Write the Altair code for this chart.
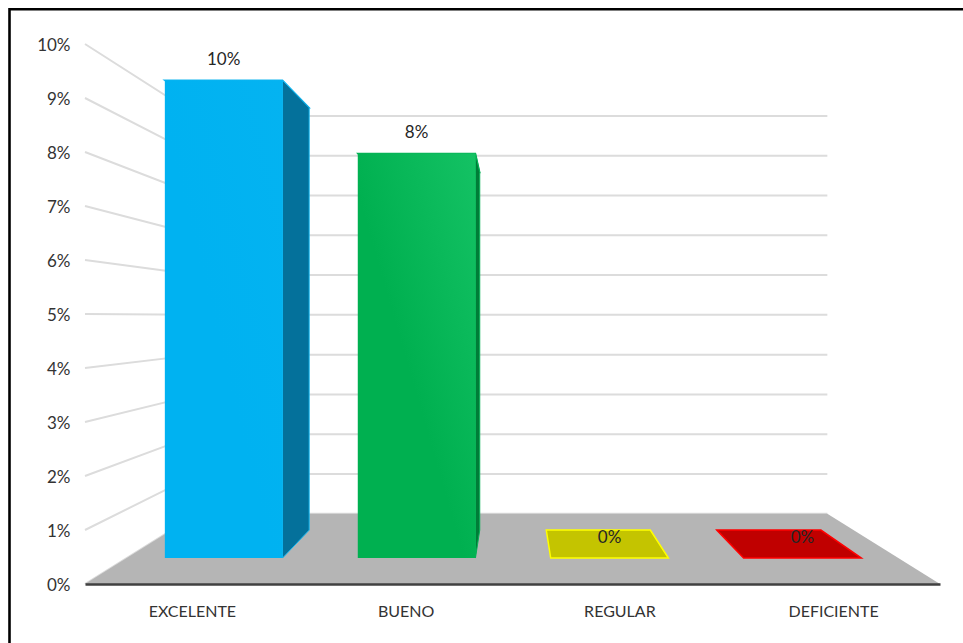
import json
import altair as alt
import pandas as pd

# Chart content
categories = ["EXCELENTE", "BUENO", "REGULAR", "DEFICIENTE"]
values = [9.8, 8.3, 0.0, 0.0]
face_colors = ["#00b2f1", "#00b050", "#c4c400", "#c00000"]
face_highlights = ["#04b3f1", "#14c264", "#c4c400", "#c00000"]
side_colors = ["#04719b", "#007d38", "#c4c400", "#c00000"]
edge_colors = ["#12b6f0", "#06b256", "#ffff00", "#ff0000"]
axis_ticks = list(range(0, 11))

# Perspective model: points recede toward a vanishing point, in data units
VANISH_X, VANISH_Y = 2.0, 4.94
DEPTH_BAR_FRONT, DEPTH_BAR_BACK, DEPTH_WALL = 0.9026, 0.798, 0.7365
BAR_START, BAR_END = 0.198, 0.808


def px(x, depth):
    return VANISH_X + (x - VANISH_X) * depth


def py(y, depth):
    return VANISH_Y + (y - VANISH_Y) * depth


x_scale = alt.Scale(domain=[0, 4], nice=False, zero=False)
y_scale = alt.Scale(domain=[0, 10], nice=False, zero=False)
FONT = "Lato"
x_labels = "{}[floor(datum.value)]".format(json.dumps(categories))

x_axis = alt.Axis(
    values=[i + 0.5 for i in range(len(categories))],
    labelExpr=x_labels, grid=False, ticks=False, labelFont=FONT,
    labelFontSize=16, labelColor="#333333", labelPadding=19, title=None,
    domainColor="#404040", domainWidth=2.5, zindex=1,
)
y_axis = alt.Axis(
    values=axis_ticks, labelExpr="datum.value + '%'", grid=False,
    ticks=False, domain=False, labelFont=FONT, labelFontSize=17,
    labelColor="#333333", labelPadding=15, labelOffset=1, title=None, zindex=1,
)


def X(name="x"):
    return alt.X(f"{name}:Q", scale=x_scale, axis=x_axis, stack=None)


def Y(name="y"):
    return alt.Y(f"{name}:Q", scale=y_scale, axis=y_axis, stack=None)


# Side wall and back wall gridlines, one polyline per tick
grid_rows = []
for v in axis_ticks:
    grid_rows += [
        {"tick": v, "step": 0, "x": 0.0, "y": float(v)},
        {"tick": v, "step": 1, "x": px(0, DEPTH_WALL), "y": py(v, DEPTH_WALL)},
        {"tick": v, "step": 2, "x": px(4, DEPTH_WALL), "y": py(v, DEPTH_WALL)},
    ]
grid = alt.Chart(pd.DataFrame(grid_rows)).mark_line(
    stroke="#dcdcdc", strokeWidth=2
).encode(x=X(), y=Y(), detail="tick:N", order="step:Q")

# Grey floor between the front axis and the back wall
floor = alt.Chart(pd.DataFrame([
    {"y": 0.0, "x": 0.0, "x2": 4.0},
    {"y": py(0, DEPTH_WALL), "x": px(0, DEPTH_WALL), "x2": px(4, DEPTH_WALL)},
])).mark_area(orient="horizontal", fill="#b5b5b5").encode(
    y=Y(), x=X(), x2="x2:Q"
)

layers = [grid, floor]

# Each bar is a top face, a side face and a front face
for i, v in enumerate(values):
    left, right = i + BAR_START, i + BAR_END
    top = alt.Chart(pd.DataFrame([
        {"y": py(v, DEPTH_BAR_FRONT), "x": px(left, DEPTH_BAR_FRONT), "x2": px(right, DEPTH_BAR_FRONT)},
        {"y": py(v, DEPTH_BAR_BACK), "x": px(left, DEPTH_BAR_BACK), "x2": px(right, DEPTH_BAR_BACK)},
    ])).mark_area(
        orient="horizontal", fill=face_colors[i], stroke=edge_colors[i], strokeWidth=1.5
    ).encode(y=Y(), x=X(), x2="x2:Q")
    layers.append(top)
    if v > 0:
        side = alt.Chart(pd.DataFrame([
            {"x": px(right, d), "y": py(v, d), "y2": py(0, d)}
            for d in (DEPTH_BAR_FRONT, DEPTH_BAR_BACK)
        ])).mark_area(
            fill=side_colors[i], stroke=edge_colors[i], strokeWidth=1
        ).encode(x=X(), y=Y(), y2="y2:Q")
        front = alt.Chart(pd.DataFrame([{
            "x": px(left, DEPTH_BAR_FRONT), "x2": px(right, DEPTH_BAR_FRONT),
            "y": py(v, DEPTH_BAR_FRONT), "y2": py(0, DEPTH_BAR_FRONT),
        }])).mark_rect(
            fill=alt.Gradient(
                gradient="linear", x1=0, y1=1, x2=1, y2=0,
                stops=[
                    alt.GradientStop(color=face_colors[i], offset=0.45),
                    alt.GradientStop(color=face_highlights[i], offset=1),
                ],
            ),
        ).encode(x=X(), x2="x2:Q", y=Y(), y2="y2:Q")
        layers += [side, front]

# Value labels sit just above the front top edge
label_rows = [
    {
        "x": px(i + (BAR_START + BAR_END) / 2, DEPTH_BAR_FRONT),
        "y": py(v, DEPTH_BAR_FRONT),
        "label": f"{round(v)}%",
    }
    for i, v in enumerate(values)
]
labels = alt.Chart(pd.DataFrame(label_rows)).mark_text(
    font=FONT, fontSize=17, color="#262626", baseline="middle", dy=-20.5
).encode(x=X(), y=Y(), text="label:N")
layers.append(labels)

# Frame along the top and left edges of the page
frame_top = alt.Chart(pd.DataFrame({"k": [0]})).mark_rule(
    stroke="#000000", strokeWidth=2.6, clip=False
).encode(x=alt.value(-76), x2=alt.value(880), y=alt.value(-34.8))
frame_left = alt.Chart(pd.DataFrame({"k": [0]})).mark_rule(
    stroke="#000000", strokeWidth=2.6, clip=False
).encode(x=alt.value(-75.5), y=alt.value(-36), y2=alt.value(600))
layers += [frame_top, frame_left]

chart = alt.layer(*layers).properties(
    width=855,
    height=540,
    padding={"left": 85, "top": 44, "right": 23, "bottom": 59},
    autosize=alt.AutoSizeParams(type="none"),
    background="#ffffff",
).configure_view(stroke=None)

chart.save("out.html", embed_options={"renderer": "svg", "actions": False})
